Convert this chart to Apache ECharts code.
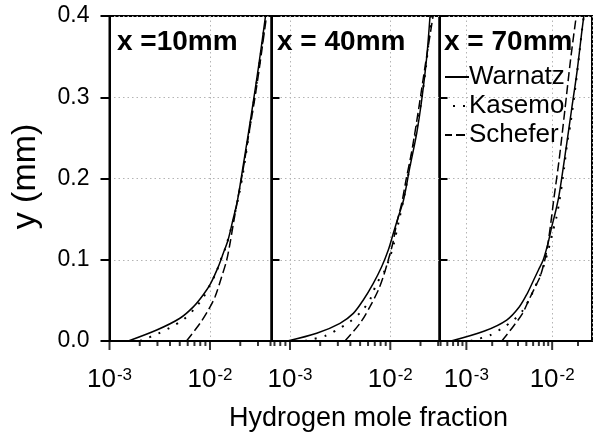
<!DOCTYPE html>
<html>
<head>
<meta charset="utf-8">
<script src="https://cdn.jsdelivr.net/npm/echarts@6/dist/echarts.min.js"></script>
<style>
html,body{margin:0;padding:0;background:#fff;}
#c{width:595px;height:443px;}
</style>
</head>
<body>
<div id="c"></div>
<script>
// ---------- data (hydrogen mole fraction, y in mm) ----------
const panelTitles = ['x =10mm', 'x = 40mm', 'x = 70mm'];
const seriesNames = ['Warnatz', 'Kasemo', 'Schefer'];
const yTickLabels = ['0.0', '0.1', '0.2', '0.3', '0.4'];

// x = 10 mm
const warnatz10 = [[0.00154,0],[0.00295,0.0135],[0.00502,0.028],[0.00682,0.042],[0.00857,0.057],[0.01016,0.071],[0.0121,0.0915],[0.01355,0.108],[0.0151,0.124],[0.0169,0.149],[0.01879,0.1735],[0.02105,0.2105],[0.02415,0.2566],[0.0271,0.2966],[0.0304,0.3376],[0.03566,0.4]];
const kasemo10  = [[0.00201,0],[0.00306,0.0092],[0.0040,0.0164],[0.00535,0.0258],[0.00698,0.0394],[0.00857,0.0538],[0.0100,0.069],[0.01148,0.084],[0.01277,0.0997],[0.0141,0.113],[0.01656,0.1428],[0.01943,0.18],[0.02154,0.2105],[0.02443,0.256],[0.02741,0.2966],[0.03074,0.3376],[0.03607,0.4]];
const schefer10 = [[0.00583,0],[0.00796,0.0218],[0.00962,0.038],[0.01122,0.0545],[0.01306,0.079],[0.01466,0.0997],[0.0158,0.120],[0.0171,0.145],[0.01879,0.1735],[0.0213,0.2105],[0.02443,0.256],[0.02773,0.2966],[0.0311,0.3376],[0.03649,0.4]];

// x = 40 mm
const warnatz40 = [[0.000944,0],[0.001845,0.0095],[0.00315,0.0218],[0.00428,0.034],[0.00538,0.0505],[0.00677,0.071],[0.0082,0.0914],[0.00955,0.112],[0.01072,0.1326],[0.01203,0.153],[0.01355,0.1735],[0.0157,0.2145],[0.01833,0.2556],[0.02056,0.2966],[0.0231,0.35],[0.0249,0.4]];
const kasemo40  = [[0.00141,0],[0.00231,0.0068],[0.00303,0.0148],[0.00397,0.0238],[0.00531,0.0382],[0.00637,0.0526],[0.00731,0.071],[0.00851,0.0833],[0.00955,0.0976],[0.01076,0.118],[0.01222,0.149],[0.01386,0.18],[0.01694,0.239],[0.01977,0.285],[0.0227,0.338],[0.0255,0.4]];
const schefer40 = [[0.00353,0],[0.00499,0.0218],[0.00627,0.0422],[0.0076,0.0628],[0.00851,0.0791],[0.00955,0.0997],[0.01057,0.120],[0.01159,0.145],[0.0130,0.1695],[0.01434,0.198],[0.01645,0.235],[0.0191,0.2843],[0.0222,0.3376],[0.0267,0.4]];

// x = 70 mm
const warnatz70 = [[0.000664,0],[0.001626,0.0123],[0.00295,0.0258],[0.00415,0.0422],[0.00514,0.0587],[0.00609,0.0751],[0.00692,0.0874],[0.00786,0.0997],[0.00894,0.1202],[0.0099,0.1407],[0.01107,0.1612],[0.01205,0.1797],[0.01442,0.235],[0.0168,0.284],[0.0196,0.3335],[0.0223,0.383],[0.0234,0.4]];
const kasemo70  = [[0.001117,0],[0.00191,0.0074],[0.0026,0.0156],[0.00356,0.0258],[0.00459,0.0382],[0.0056,0.0545],[0.00648,0.0689],[0.00755,0.0853],[0.00836,0.0997],[0.00921,0.1157],[0.01007,0.133],[0.01116,0.1514],[0.01205,0.17],[0.01336,0.2018],[0.01498,0.2437],[0.01638,0.268],[0.0191,0.3212],[0.0223,0.383],[0.0234,0.4]];
const schefer70 = [[0.00259,0],[0.0035,0.0176],[0.00452,0.0341],[0.00535,0.0505],[0.00636,0.0668],[0.00723,0.0791],[0.00821,0.0997],[0.00894,0.1202],[0.00975,0.149],[0.01042,0.1735],[0.01205,0.2228],[0.01406,0.284],[0.01637,0.3458],[0.0191,0.4]];

// axis ranges and tick positions (log axes)
const xMins = [0.001, 0.000654, 0.000486];
const xMaxs = [0.0409, 0.03094, 0.02914];
const majorTicks = [0.001, 0.01];
const minorTicks10 = [0.002,0.003,0.004,0.005,0.006,0.007,0.008,0.009,0.02,0.03,0.04];
const minorTicks40 = [0.0007,0.0008,0.0009,0.002,0.003,0.004,0.005,0.006,0.007,0.008,0.009,0.02,0.03];
const minorTicks70 = [0.0005,0.0006,0.0007,0.0008,0.0009,0.002,0.003,0.004,0.005,0.006,0.007,0.008,0.009,0.02];

const panels = [
  {w: warnatz10, k: kasemo10, s: schefer10, minor: minorTicks10},
  {w: warnatz40, k: kasemo40, s: schefer40, minor: minorTicks40},
  {w: warnatz70, k: kasemo70, s: schefer70, minor: minorTicks70}
];

// ---------- layout ----------
const FONT = '"Liberation Sans", Arial, sans-serif';
const gridBoxes = [
  {left: 109.5, width: 162},
  {left: 271.5, width: 168},
  {left: 439.5, width: 160}
];
const TOP = 16, HEIGHT = 325;

const chart = echarts.init(document.getElementById('c'), null, {renderer: 'canvas'});

const grids = gridBoxes.map(g => ({
  left: g.left, top: TOP, width: g.width, height: HEIGHT,
  show: true, borderColor: '#000', borderWidth: 2, backgroundColor: 'transparent',
  containLabel: false
}));

function isPow10(v) {
  const l = Math.log10(v);
  return Math.abs(l - Math.round(l)) < 1e-6;
}

const dotted = {color: '#b4b4b4', width: 1, type: [1.5, 3]};

const xAxes = [0,1,2].map(i => ({
  type: 'log', logBase: 10, gridIndex: i, min: xMins[i], max: xMaxs[i],
  axisLine: {show: true, onZero: false, lineStyle: {color: '#000', width: 2}},
  axisTick: {show: false},
  splitLine: {show: true, lineStyle: dotted},
  minorTick: {show: false}, minorSplitLine: {show: false},
  axisLabel: {
    show: true, interval: 0, margin: 26, hideOverlap: false,
    showMinLabel: true, showMaxLabel: true,
    formatter: v => isPow10(v) ? '{a|10}{b|' + Math.round(Math.log10(v)) + '}' : '',
    rich: {
      a: {fontSize: 26, fontFamily: FONT, color: '#000', lineHeight: 26},
      b: {fontSize: 17, fontFamily: FONT, color: '#000', verticalAlign: 'top', lineHeight: 17, padding: [0,0,10,1]}
    }
  },
  name: i === 1 ? 'Hydrogen mole fraction' : '',
  nameLocation: 'middle', nameGap: 64,
  nameTextStyle: {fontSize: 27, fontFamily: FONT, color: '#000', padding: [0,0,0,26]}
}));

const yAxes = [0,1,2].map(i => ({
  type: 'value', gridIndex: i, min: 0, max: 0.4, interval: 0.1,
  axisLine: {show: true, lineStyle: {color: '#000', width: 2}},
  axisTick: {show: true, inside: i !== 0, length: i === 0 ? 9 : 8, lineStyle: {color: '#000', width: 2}},
  splitLine: {show: true, lineStyle: dotted},
  axisLabel: {
    show: i === 0, margin: 20, fontSize: 23, fontFamily: FONT, color: '#000',
    formatter: v => yTickLabels[Math.round(v * 10)]
  },
  name: i === 0 ? 'y (mm)' : '',
  nameLocation: 'middle', nameRotate: 90, nameGap: 67,
  nameTextStyle: {fontSize: 34, fontFamily: FONT, color: '#000', padding: [0,0,0,4]}
}));

const lineStyles = {
  Warnatz: {color: '#000', width: 1.5, type: 'solid'},
  Kasemo: {color: '#000', width: 2, type: [2, 8]},
  Schefer: {color: '#000', width: 1.5, type: [9, 4]}
};

const series = [];
panels.forEach((p, i) => {
  [['Warnatz', p.w], ['Kasemo', p.k], ['Schefer', p.s]].forEach(([name, data]) => {
    series.push({
      type: 'line', name, xAxisIndex: i, yAxisIndex: i, data,
      symbol: 'none', smooth: 0.3, clip: true, silent: true,
      lineStyle: lineStyles[name], itemStyle: {color: '#000'},
      animation: false, z: 3
    });
  });
  // x-axis tick marks (major & minor), placed through the axis scale
  series.push({
    type: 'scatter', name: 'majorTick' + i, xAxisIndex: i, yAxisIndex: i,
    data: majorTicks.filter(v => v >= xMins[i] && v <= xMaxs[i]).map(v => [v, 0]),
    symbol: 'rect', symbolSize: [2, 9], symbolOffset: [0, 4.5],
    itemStyle: {color: '#000'}, silent: true, clip: false, animation: false, z: 4
  });
  series.push({
    type: 'scatter', name: 'minorTick' + i, xAxisIndex: i, yAxisIndex: i,
    data: p.minor.map(v => [v, 0]),
    symbol: 'rect', symbolSize: [2, 5], symbolOffset: [0, 2.5],
    itemStyle: {color: '#000'}, silent: true, clip: false, animation: false, z: 4
  });
});

const titleLefts = [117, 277, 444];
const option = {
  animation: false,
  backgroundColor: '#fff',
  grid: grids,
  xAxis: xAxes,
  yAxis: yAxes,
  title: panelTitles.map((t, i) => ({
    text: t, left: titleLefts[i], top: 28, padding: 0,
    textStyle: {fontSize: 28, fontWeight: 'bold', fontFamily: FONT, color: '#000'}
  })),
  legend: {
    data: [
      {name: 'Warnatz'},
      {name: 'Kasemo', lineStyle: {type: [2, 8], dashOffset: 2}},
      {name: 'Schefer'}
    ],
    orient: 'vertical', left: 444, top: 64, padding: 0,
    itemWidth: 24, itemHeight: 1, itemGap: 3,
    itemStyle: {color: 'rgba(0,0,0,0)', borderWidth: 0, opacity: 0},
    selectedMode: false,
    textStyle: {fontSize: 26, fontFamily: FONT, color: '#000', padding: [0,0,0,-5]}
  },
  series
};
chart.setOption(option);
</script>
</body>
</html>
